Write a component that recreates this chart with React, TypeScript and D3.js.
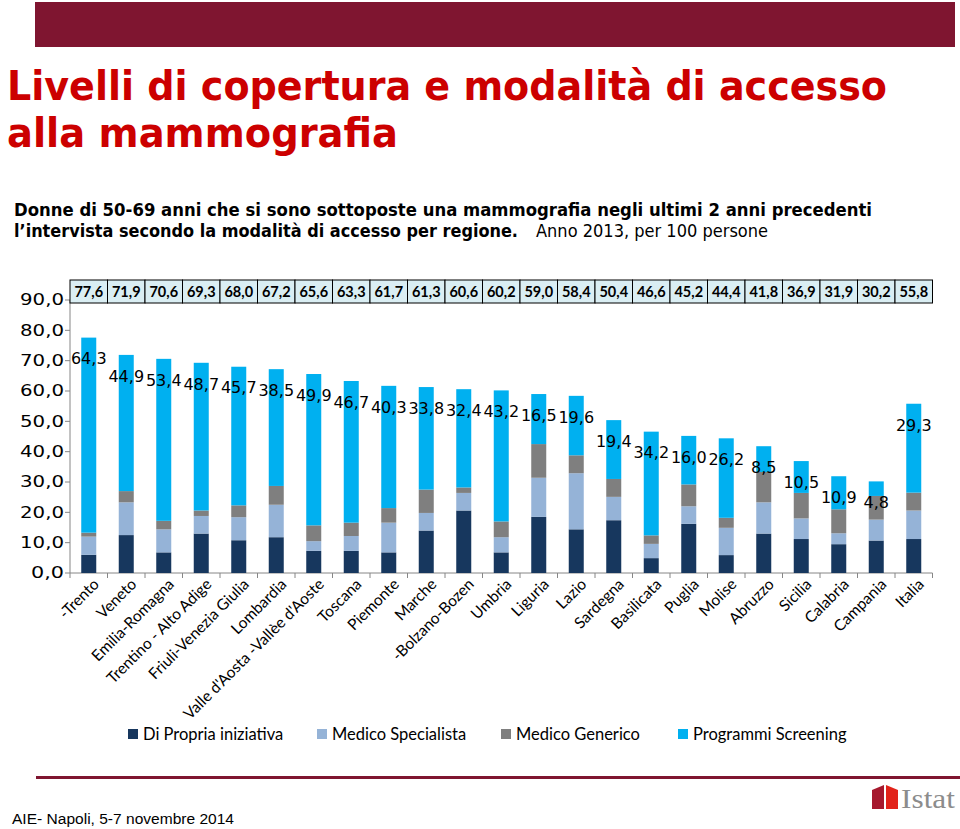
import React from "react";
import * as d3 from "d3";

const regions = [
  "-Trento", "Veneto", "Emilia-Romagna", "Trentino - Alto Adige", "Friuli-Venezia Giulia",
  "Lombardia", "Valle d'Aosta -Vallèe d'Aoste", "Toscana", "Piemonte", "Marche",
  "-Bolzano-Bozen", "Umbria", "Liguria", "Lazio", "Sardegna", "Basilicata", "Puglia",
  "Molise", "Abruzzo", "Sicilia", "Calabria", "Campania", "Italia",
];
const totals = [77.6, 71.9, 70.6, 69.3, 68.0, 67.2, 65.6, 63.3, 61.7, 61.3, 60.6, 60.2, 59.0, 58.4, 50.4, 46.6, 45.2, 44.4, 41.8, 36.9, 31.9, 30.2, 55.8];
const propria = [6.0, 12.5, 6.8, 13.0, 10.8, 11.8, 7.3, 7.3, 6.8, 14.0, 20.6, 6.8, 18.5, 14.4, 17.4, 4.9, 16.2, 5.9, 13.0, 11.2, 9.5, 10.7, 11.2];
const specialista = [6.0, 10.8, 7.6, 5.8, 7.6, 10.7, 3.2, 4.9, 9.8, 5.8, 5.8, 5.0, 12.9, 18.5, 7.7, 4.7, 5.8, 9.0, 10.3, 6.8, 3.6, 6.9, 9.4];
const generico = [1.3, 3.7, 2.8, 1.8, 3.9, 6.2, 5.2, 4.4, 4.8, 7.7, 1.8, 5.2, 11.1, 5.9, 5.9, 2.8, 7.2, 3.3, 10.0, 8.4, 7.9, 7.8, 5.9];
const screening = [64.3, 44.9, 53.4, 48.7, 45.7, 38.5, 49.9, 46.7, 40.3, 33.8, 32.4, 43.2, 16.5, 19.6, 19.4, 34.2, 16.0, 26.2, 8.5, 10.5, 10.9, 4.8, 29.3];
const yTicks = [0, 10, 20, 30, 40, 50, 60, 70, 80, 90];
const seriesNames = ["Di Propria iniziativa", "Medico Specialista", "Medico Generico", "Programmi Screening"];
const seriesColors = ["#17375E", "#95B3D7", "#7F7F7F", "#00B0F0"];

const fmt = (v: number) => v.toFixed(1).replace(".", ",");

export default function App() {
  const W = 960, H = 829;
  const x = d3.scaleBand<string>().domain(regions).range([70, 932.5]).paddingInner(0.6).paddingOuter(0.3);
  const band = d3.scaleBand<string>().domain(regions).range([70, 932.5]);
  const y = d3.scaleLinear().domain([0, 90]).range([573, 300]);

  const rows = regions.map((r, i) => ({ r, p: propria[i], s: specialista[i], g: generico[i], sc: screening[i] }));
  const stack = d3.stack<any>().keys(["p", "s", "g", "sc"])(rows);

  const labelFont = "'DejaVu Sans', Verdana, sans-serif";
  const calFont = "Lato, 'Open Sans', sans-serif";

  const legendX = [128, 317, 501, 678];

  return (
    <svg width={W} height={H} style={{ position: "absolute", left: 0, top: 0, background: "#fff" }}>
      <rect x={0} y={0} width={W} height={H} fill="#fff" />
      {/* header band */}
      <rect x={35} y={2} width={920} height={45} fill="#7F1530" />

      {/* title */}
      <text x={7} y={100} fontFamily={labelFont} fontWeight="bold" fontSize={41} fill="#CC0000" textLength={880} lengthAdjust="spacingAndGlyphs">
        Livelli di copertura e modalità di accesso
      </text>
      <text x={7} y={147} fontFamily={labelFont} fontWeight="bold" fontSize={41} fill="#CC0000" textLength={391} lengthAdjust="spacingAndGlyphs">
        alla mammografia
      </text>

      {/* subtitle */}
      <text x={14} y={216} fontFamily={labelFont} fontWeight="bold" fontSize={17} fill="#000" textLength={858} lengthAdjust="spacingAndGlyphs">
        Donne di 50-69 anni che si sono sottoposte una mammografia negli ultimi 2 anni precedenti
      </text>
      <text x={14} y={237} fontFamily={labelFont} fontWeight="bold" fontSize={17} fill="#000" textLength={504} lengthAdjust="spacingAndGlyphs">
        l’intervista secondo la modalità di accesso per regione.
      </text>
      <text x={536} y={237} fontFamily={labelFont} fontSize={17} fill="#000" textLength={232} lengthAdjust="spacingAndGlyphs">
        Anno 2013, per 100 persone
      </text>

      {/* y axis */}
      <line x1={70} x2={70} y1={y(90)} y2={y(0)} stroke="#868686" strokeWidth={1} />
      {yTicks.map((t) => {
        const s = fmt(t);
        return (
          <g key={t}>
            <line x1={65} x2={70} y1={y(t)} y2={y(t)} stroke="#868686" />
            <text x={64} y={y(t)} dy="0.36em" textAnchor="end" fontFamily={labelFont} fontSize={15} fill="#000" textLength={s.length === 4 ? 44 : 33} lengthAdjust="spacingAndGlyphs">
              {s}
            </text>
          </g>
        );
      })}

      {/* x axis */}
      <line x1={70} x2={932.5} y1={y(0)} y2={y(0)} stroke="#868686" />
      {regions.map((r) => (
        <line key={r} x1={band(r)!} x2={band(r)!} y1={y(0)} y2={y(0) + 5} stroke="#868686" />
      ))}
      <line x1={932.5} x2={932.5} y1={y(0)} y2={y(0) + 5} stroke="#868686" />

      {/* bars */}
      {stack.map((layer, li) => (
        <g key={li} fill={seriesColors[li]}>
          {layer.map((d, i) => (
            <rect key={i} x={x(regions[i])!} width={x.bandwidth()} y={y(d[1])} height={y(d[0]) - y(d[1])} />
          ))}
        </g>
      ))}

      {/* screening labels */}
      {regions.map((r, i) => (
        <text key={r} x={x(r)! + x.bandwidth() / 2} y={y(totals[i]) + 21} dy="0.36em" textAnchor="middle" fontFamily={labelFont} fontSize={16} fill="#000">
          {fmt(screening[i])}
        </text>
      ))}

      {/* data table row of totals */}
      {regions.map((r, i) => (
        <g key={r}>
          <rect x={band(r)!} y={280} width={band.bandwidth()} height={23} fill="#DAEEF3" stroke="#000" strokeWidth={1} />
          <text x={band(r)! + band.bandwidth() / 2} y={292} dy="0.36em" textAnchor="middle" fontFamily={calFont} fontWeight="bold" fontSize={14.5} fill="#000">
            {fmt(totals[i])}
          </text>
        </g>
      ))}

      {/* x labels */}
      {regions.map((r) => {
        const cx = x(r)! + x.bandwidth() / 2;
        return (
          <text key={r} transform={`translate(${cx + 7},${581}) rotate(-45)`} textAnchor="end" dominantBaseline="central" fontFamily={calFont} fontSize={15.5} fill="#000">
            {r}
          </text>
        );
      })}

      {/* legend */}
      {seriesNames.map((n, i) => (
        <g key={n}>
          <rect x={legendX[i]} y={729} width={10} height={10} fill={seriesColors[i]} />
          <text x={legendX[i] + 15} y={734} dy="0.36em" fontFamily={calFont} fontSize={16.5} fill="#000">{n}</text>
        </g>
      ))}

      {/* footer */}
      <rect x={36} y={776} width={924} height={3} fill="#7F1530" />
      <text x={12} y={824} fontFamily="'Liberation Sans Narrow', 'Liberation Sans', Arial, sans-serif" fontSize={14} fill="#000" textLength={222} lengthAdjust="spacingAndGlyphs">
        AIE- Napoli, 5-7 novembre 2014
      </text>
      {/* Istat logo */}
      <path d="M872,790 L884,785 L884,809 L872,809 Z" fill="#A6192E" />
      <path d="M886,785 L898,790 L898,809 L886,809 Z" fill="#E2231A" />
      <text x={901} y={808} fontFamily="'Liberation Serif', serif" fontSize={27} fill="#8C8C8C" textLength={54} lengthAdjust="spacingAndGlyphs">
        Istat
      </text>
    </svg>
  );
}
